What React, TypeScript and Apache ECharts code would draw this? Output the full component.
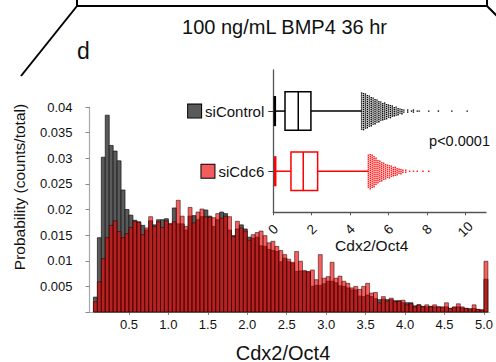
import React, { useEffect, useRef } from 'react';
import * as echarts from 'echarts';

// ---------- DATA ----------
const BIN_WIDTH = 0.05; // histogram bin width (last bin = overflow at 5.0)
const siControlHist = [
  0, 0.0029, 0.0145, 0.0302, 0.0384, 0.0325, 0.0314, 0.0295, 0.0238, 0.0200,
  0.0189, 0.0179, 0.0176, 0.0169, 0.0160, 0.0178, 0.0170, 0.0180, 0.0180, 0.0182,
  0.0172, 0.0203, 0.0172, 0.0172, 0.0160, 0.0187, 0.0188, 0.0180, 0.0186, 0.0199,
  0.0187, 0.0167, 0.0180, 0.0195, 0.0192, 0.0160, 0.0149, 0.0162, 0.0170, 0.0162,
  0.0146, 0.0144, 0.0146, 0.0129, 0.0128, 0.0122, 0.0120, 0.0118, 0.0098, 0.0105,
  0.0098, 0.0095, 0.0079, 0.0080, 0.0079, 0.0078, 0.0050, 0.0052, 0.0052, 0.0055,
  0.0060, 0.0060, 0.0057, 0.0051, 0.0050, 0.0047, 0.0043, 0.0043, 0.0031, 0.0030,
  0.0033, 0.0030, 0.0026, 0.0024, 0.0025, 0.0024, 0.0024, 0.0022, 0.0022, 0.0018,
  0.0018, 0.0018, 0.0012, 0.0014, 0.0011, 0.0010, 0.0011, 0.0010, 0.0010, 0.0009,
  0.0010, 0.0007, 0.0009, 0.0010, 0.0008, 0.0007, 0.0006, 0.0007, 0.0005, 0.0004,
  0.0064,
];
const siCdc6Hist = [
  0, 0.0020, 0.0059, 0.0104, 0.0145, 0.0169, 0.0178, 0.0157, 0.0145, 0.0153,
  0.0165, 0.0177, 0.0175, 0.0151, 0.0164, 0.0186, 0.0167, 0.0176, 0.0165, 0.0178,
  0.0172, 0.0176, 0.0218, 0.0187, 0.0167, 0.0204, 0.0174, 0.0195, 0.0201, 0.0186,
  0.0185, 0.0184, 0.0192, 0.0183, 0.0187, 0.0186, 0.0147, 0.0177, 0.0164, 0.0158,
  0.0140, 0.0151, 0.0155, 0.0158, 0.0149, 0.0135, 0.0138, 0.0128, 0.0120, 0.0112,
  0.0103, 0.0097, 0.0118, 0.0099, 0.0081, 0.0079, 0.0082, 0.0063, 0.0112, 0.0066,
  0.0069, 0.0097, 0.0066, 0.0070, 0.0060, 0.0056, 0.0047, 0.0050, 0.0044, 0.0050,
  0.0056, 0.0037, 0.0038, 0.0018, 0.0030, 0.0021, 0.0027, 0.0020, 0.0021, 0.0023,
  0.0014, 0.0016, 0.0010, 0.0014, 0.0010, 0.0014, 0.0010, 0.0014, 0.0010, 0.0010,
  0.0018, 0.0007, 0.0010, 0.0016, 0.0010, 0.0007, 0.0006, 0.0014, 0.0005, 0.0004,
  0.0099,
];
const histXTicks = [0.5, 1.0, 1.5, 2.0, 2.5, 3.0, 3.5, 4.0, 4.5, 5.0];
const histYTicks = [0.005, 0.01, 0.015, 0.02, 0.025, 0.03, 0.035, 0.04];
const histYTickMarks = [0, 0.005, 0.01, 0.015, 0.02, 0.025, 0.03, 0.035, 0.04];

const insetXTicks = [0, 2, 4, 6, 8, 10];
const insetGroups = ['siControl', 'siCdc6'];
const insetRows = [2, 1];
// [min whisker, Q1, median, Q3, max whisker]
const siControlBox = [0.08, 0.61, 1.3, 1.96, 4.6];
const siCdc6Box = [0.1, 0.92, 1.56, 2.31, 4.95];
// outlier swarm: value columns and number of dots per column
const siControlOutlierValues = [
  4.6, 4.7, 4.8, 4.9, 5.0, 5.1, 5.2, 5.3, 5.4, 5.5, 5.6, 5.7, 5.8, 5.9, 6.0, 6.1,
  6.2, 6.3, 6.4, 6.5, 6.6, 6.7, 6.8, 7.0, 7.2, 7.3, 7.5, 7.6, 8.1, 8.6, 9.3, 10.1,
];
const siControlOutlierCounts = [
  19, 19, 18, 17, 16, 15, 14, 13, 12, 11, 10, 9, 9, 8, 7, 7,
  6, 5, 5, 4, 3, 3, 2, 2, 1, 2, 1, 1, 1, 1, 1, 1,
];
const siCdc6OutlierValues = [
  4.95, 5.05, 5.15, 5.25, 5.35, 5.45, 5.55, 5.65, 5.75, 5.85, 5.95, 6.05, 6.15,
  6.25, 6.35, 6.45, 6.55, 6.65, 6.75, 6.9, 7.1, 7.3, 7.5, 7.8, 8.1,
];
const siCdc6OutlierCounts = [
  17, 18, 17, 16, 14, 12, 11, 10, 9, 8, 7, 7, 6,
  5, 5, 4, 3, 3, 2, 2, 1, 1, 1, 1, 1,
];

// ---------- STYLE ----------
const FONT = 'Liberation Sans, Arial, Helvetica, sans-serif';
const GRAY = '#5a5a5a';
const RED_FILL = 'rgba(235,0,0,0.62)';
const LIGHT_RED = '#f25c5c';
const BOX_HALF = 0.32;
const CAP_HALF = 0.25;

function histSeries(name: string, values: number[], fill: string, stroke: string, z: number) {
  return {
    type: 'custom',
    name,
    xAxisIndex: 0,
    yAxisIndex: 0,
    z,
    silent: true,
    encode: { x: [0, 1], y: 2 },
    data: values.map((v, i) => [i * BIN_WIDTH, (i + 1) * BIN_WIDTH, v]),
    renderItem: (params: any, api: any) => {
      const v = api.value(2);
      if (!(v > 0)) return null;
      const p0 = api.coord([api.value(0), v]);
      const p1 = api.coord([api.value(1), 0]);
      return {
        type: 'rect',
        shape: { x: p0[0], y: p0[1], width: p1[0] - p0[0], height: p1[1] - p0[1] },
        style: { fill, stroke, lineWidth: 0.7 },
      };
    },
  };
}

function boxSeries(stats: number[], row: number, color: string) {
  return {
    type: 'custom',
    xAxisIndex: 1,
    yAxisIndex: 1,
    silent: true,
    z: 5,
    encode: { x: [0, 1, 2, 3, 4], y: 5 },
    data: [[...stats, row]],
    renderItem: (params: any, api: any) => {
      const r = api.value(5);
      const X = (v: number) => api.coord([v, r])[0];
      const cy = api.coord([api.value(2), r])[1];
      const half = api.size([0, BOX_HALF])[1];
      const cap = api.size([0, CAP_HALF])[1];
      const mn = api.value(0), q1 = api.value(1), md = api.value(2), q3 = api.value(3), mx = api.value(4);
      const st = { stroke: color, lineWidth: 1.5, fill: 'none' };
      return {
        type: 'group',
        children: [
          { type: 'line', shape: { x1: X(mn), y1: cy, x2: X(q1), y2: cy }, style: st },
          { type: 'line', shape: { x1: X(q3), y1: cy, x2: X(mx), y2: cy }, style: st },
          { type: 'rect', shape: { x: X(q1), y: cy - half, width: X(q3) - X(q1), height: 2 * half }, style: { ...st, fill: '#fff' } },
          { type: 'line', shape: { x1: X(md), y1: cy - half, x2: X(md), y2: cy + half }, style: st },
          { type: 'line', shape: { x1: X(mn), y1: cy - cap, x2: X(mn), y2: cy + cap }, style: { ...st, lineWidth: 2.5 } },
        ],
      };
    },
  };
}

function swarmSeries(values: number[], counts: number[], row: number, color: string) {
  return {
    type: 'custom',
    xAxisIndex: 1,
    yAxisIndex: 1,
    silent: true,
    z: 6,
    encode: { x: 0, y: 1 },
    data: values.map((v, i) => [v, row, counts[i]]),
    renderItem: (params: any, api: any) => {
      const c = api.coord([api.value(0), api.value(1)]);
      const n = api.value(2);
      const step = 2.0;
      const off = params.dataIndex % 2 === 0 ? 0 : 1;
      const children: any[] = [];
      for (let k = 0; k < n; k++) {
        const dy = (k - (n - 1) / 2) * step + (n > 2 ? off * 0.6 : 0);
        children.push({
          type: 'rect',
          shape: { x: c[0] - 0.7, y: c[1] + dy - 0.7, width: 1.4, height: 1.4 },
          style: { fill: color },
        });
      }
      return { type: 'group', children };
    },
  };
}

export default function App() {
  const ref = useRef<HTMLDivElement>(null);
  useEffect(() => {
    if (!ref.current) return;
    const chart = echarts.init(ref.current, null, { renderer: 'svg' });
    const labelStyle = { color: '#111', fontFamily: FONT, fontSize: 13 };
    const option: any = {
      animation: false,
      backgroundColor: '#fff',
      textStyle: { fontFamily: FONT },
      grid: [
        { left: 89.5, right: 6, top: 107, bottom: 50 },
        { left: 273.3, right: 10, top: 70, bottom: 149.7 },
      ],
      xAxis: [
        {
          type: 'value',
          gridIndex: 0,
          min: 0,
          max: 5.07,
          axisLine: { show: true, lineStyle: { color: '#a8a8a8', width: 1.2 } },
          axisTick: { show: true, length: 3, customValues: histXTicks, lineStyle: { color: '#888' } },
          axisLabel: {
            ...labelStyle,
            margin: 6,
            customValues: histXTicks,
            formatter: (v: number) => v.toFixed(1),
          },
          splitLine: { show: false },
        },
        {
          type: 'value',
          gridIndex: 1,
          min: 0,
          max: 11.08,
          axisLine: { show: true, lineStyle: { color: '#555', width: 1.3 } },
          axisTick: { show: true, length: 3, customValues: insetXTicks, lineStyle: { color: '#555' } },
          axisLabel: {
            ...labelStyle,
            fontSize: 13.5,
            margin: 17,
            rotate: 45,
            align: 'center',
            verticalAlign: 'middle',
            customValues: insetXTicks,
            formatter: (v: number) => String(v),
          },
          splitLine: { show: false },
        },
      ],
      yAxis: [
        {
          type: 'value',
          gridIndex: 0,
          min: 0,
          max: 0.04,
          axisLine: { show: true, lineStyle: { color: '#a8a8a8', width: 1.2 } },
          axisTick: { show: true, length: 4, customValues: histYTickMarks, lineStyle: { color: '#888' } },
          axisLabel: {
            ...labelStyle,
            margin: 17,
            customValues: histYTicks,
            formatter: (v: number) => String(parseFloat(v.toFixed(3))),
          },
          splitLine: { show: false },
        },
        {
          type: 'value',
          gridIndex: 1,
          min: 0.317,
          max: 2.683,
          axisLine: { show: true, lineStyle: { color: '#555', width: 1.3 } },
          axisTick: { show: true, length: 5, customValues: insetRows, lineStyle: { color: '#333' } },
          axisLabel: {
            margin: 9,
            customValues: insetRows,
            formatter: (v: number) => {
              const idx = insetRows.indexOf(Math.round(v));
              const name = insetGroups[idx];
              return idx === 0 ? `{sqC| }{gap| }{t|${name}}` : `{sqR| }{gap| }{t|${name}}`;
            },
            rich: {
              sqC: { width: 13, height: 13, backgroundColor: GRAY, borderColor: '#000', borderWidth: 1 },
              sqR: { width: 13, height: 13, backgroundColor: LIGHT_RED, borderColor: '#000', borderWidth: 1 },
              gap: { width: 4 },
              t: { fontSize: 15, color: '#111', fontFamily: FONT },
            },
          },
          splitLine: { show: false },
        },
      ],
      series: [
        histSeries('siControl', siControlHist, GRAY, '#111', 1),
        histSeries('siCdc6', siCdc6Hist, RED_FILL, 'rgba(30,0,0,0.75)', 2),
        boxSeries(siControlBox, insetRows[0], '#000'),
        boxSeries(siCdc6Box, insetRows[1], '#ff0000'),
        swarmSeries(siControlOutlierValues, siControlOutlierCounts, insetRows[0], '#000'),
        swarmSeries(siCdc6OutlierValues, siCdc6OutlierCounts, insetRows[1], '#ff1010'),
      ],
      graphic: [
        { type: 'line', shape: { x1: 77, y1: 6, x2: 487, y2: 6 }, style: { stroke: '#000', lineWidth: 2 } },
        { type: 'line', shape: { x1: 77, y1: 0, x2: 77, y2: 6 }, style: { stroke: '#000', lineWidth: 2 } },
        { type: 'line', shape: { x1: 487, y1: 0, x2: 487, y2: 6 }, style: { stroke: '#000', lineWidth: 2 } },
        { type: 'line', shape: { x1: 77, y1: 6, x2: 21, y2: 76 }, style: { stroke: '#000', lineWidth: 2 } },
        { type: 'line', shape: { x1: 487, y1: 6, x2: 497, y2: 16 }, style: { stroke: '#000', lineWidth: 2 } },
        {
          type: 'text', x: 284.5, y: 27,
          style: { text: '100 ng/mL BMP4 36 hr', fontSize: 20, fontFamily: FONT, fill: '#111', textAlign: 'center', textVerticalAlign: 'middle' },
        },
        {
          type: 'text', x: 77, y: 51,
          style: { text: 'd', fontSize: 23, fontFamily: FONT, fill: '#111', textAlign: 'left', textVerticalAlign: 'middle' },
        },
        {
          type: 'text', x: 19, y: 187, rotation: Math.PI / 2,
          style: { text: 'Probability (counts/total)', fontSize: 15.5, fontFamily: FONT, fill: '#111', textAlign: 'center', textVerticalAlign: 'middle' },
        },
        {
          type: 'text', x: 283, y: 352.5,
          style: { text: 'Cdx2/Oct4', fontSize: 20, fontFamily: FONT, fill: '#111', textAlign: 'center', textVerticalAlign: 'middle' },
        },
        {
          type: 'text', x: 371.7, y: 245,
          style: { text: 'Cdx2/Oct4', fontSize: 15.5, fontFamily: FONT, fill: '#111', textAlign: 'center', textVerticalAlign: 'middle' },
        },
        {
          type: 'text', x: 459.5, y: 141,
          style: { text: 'p<0.0001', fontSize: 14.5, fontFamily: FONT, fill: '#111', textAlign: 'center', textVerticalAlign: 'middle' },
        },
      ],
    };
    chart.setOption(option);
    return () => chart.dispose();
  }, []);
  return (
    <div
      ref={ref}
      style={{ position: 'fixed', left: 0, top: 0, width: 496, height: 362, background: '#fff' }}
    />
  );
}
